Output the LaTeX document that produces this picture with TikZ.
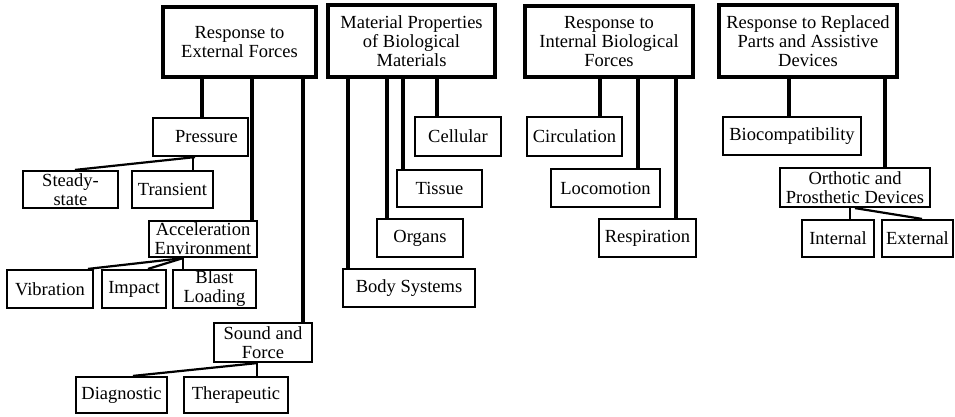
\documentclass[tikz,border=0pt]{standalone}
\usepackage{fontspec}
\setmainfont{Liberation Serif}
\begin{document}
\begin{tikzpicture}[x=1pt,y=-1pt,
  every node/.style={font=\fontsize{18.5}{19}\selectfont, align=center, inner sep=0pt},
  topbox/.style={draw, line width=3.2pt},
  box/.style={draw, line width=2.2pt},
  thickconn/.style={line width=3.2pt},
  conn/.style={line width=2.2pt}]
\useasboundingbox (0,0) rectangle (955,416);
% top level
\node[topbox, minimum width=153pt, minimum height=70pt] (ext) at (239.5,42) {Response to\\External Forces};
\node[topbox, minimum width=167pt, minimum height=72pt] (mat) at (411.5,41) {Material Properties\\of Biological\\Materials};
\node[topbox, minimum width=168pt, minimum height=71pt] (int) at (609,41.5) {Response to\\Internal Biological\\Forces};
\node[topbox, minimum width=178pt, minimum height=72pt] (rep) at (808,41) {Response to Replaced\\Parts and Assistive\\Devices};
% external forces branch
\node[box, minimum width=95pt, minimum height=38pt] (pres) at (200.5,137) {\hspace*{12pt}Pressure};
\node[box, minimum width=95pt, minimum height=37pt] (steady) at (70.5,189.5) {Steady-\\state};
\node[box, minimum width=81pt, minimum height=37pt] (trans) at (172.5,189.5) {Transient};
\node[box, minimum width=108pt, minimum height=36pt] (acc) at (203,239) {Acceleration\\Environment};
\node[box, minimum width=86pt, minimum height=38pt] (vib) at (50,289) {Vibration};
\node[box, minimum width=64pt, minimum height=38pt] (imp) at (134,289) {Impact};
\node[box, minimum width=83pt, minimum height=38pt] (blast) at (214.5,289) {Blast\\Loading};
\node[box, minimum width=98pt, minimum height=39pt] (sound) at (263,342.5) {Sound and\\Force};
\node[box, minimum width=91pt, minimum height=36pt] (diag) at (121.5,395) {Diagnostic};
\node[box, minimum width=104pt, minimum height=36pt] (ther) at (236,395) {Therapeutic};
% material branch
\node[box, minimum width=86pt, minimum height=39pt] (cell) at (458,136.5) {Cellular};
\node[box, minimum width=85pt, minimum height=37pt] (tiss) at (439.5,188.5) {Tissue};
\node[box, minimum width=86pt, minimum height=38pt] (org) at (420,238) {Organs};
\node[box, minimum width=132pt, minimum height=38pt] (body) at (409,288) {Body Systems};
% internal branch
\node[box, minimum width=95pt, minimum height=39pt] (circ) at (574.5,136.5) {Circulation};
\node[box, minimum width=109pt, minimum height=38pt] (loco) at (605.5,188) {Locomotion};
\node[box, minimum width=97pt, minimum height=38pt] (resp) at (647.5,238) {Respiration};
% replaced parts branch
\node[box, minimum width=138pt, minimum height=38pt] (bio) at (792,136) {Biocompatibility};
\node[box, minimum width=150pt, minimum height=39pt] (orth) at (855,187.5) {Orthotic and\\Prosthetic Devices};
\node[box, minimum width=72pt, minimum height=37pt] (intl) at (838,238.5) {Internal};
\node[box, minimum width=71pt, minimum height=37pt] (extl) at (917.5,238.5) {External};
% connectors
\draw[thickconn] (ext.south -| 202,0) -- (pres.north -| 202,0);
\draw[thickconn] (ext.south -| 252,0) -- (acc.north -| 252,0);
\draw[thickconn] (ext.south -| 303,0) -- (sound.north -| 303,0);
\draw[conn] (pres.south -| 195,0) -- (steady.north -| 75,0);
\draw[conn] (pres.south -| 193,0) -- (trans.north -| 193,0);
\draw[conn] (acc.south -| 183,0) -- (vib.north -| 88,0);
\draw[conn] (acc.south -| 183,0) -- (imp.north -| 148,0);
\draw[conn] (acc.south -| 183,0) -- (blast.north -| 183,0);
\draw[conn] (sound.south -| 257,0) -- (diag.north -| 133,0);
\draw[conn] (sound.south -| 257,0) -- (ther.north -| 257,0);
\draw[thickconn] (mat.south -| 437,0) -- (cell.north -| 437,0);
\draw[thickconn] (mat.south -| 403,0) -- (tiss.north -| 403,0);
\draw[thickconn] (mat.south -| 387,0) -- (org.north -| 387,0);
\draw[thickconn] (mat.south -| 348,0) -- (body.north -| 348,0);
\draw[thickconn] (int.south -| 600,0) -- (circ.north -| 600,0);
\draw[thickconn] (int.south -| 638,0) -- (loco.north -| 638,0);
\draw[thickconn] (int.south -| 676,0) -- (resp.north -| 676,0);
\draw[thickconn] (rep.south -| 789,0) -- (bio.north -| 789,0);
\draw[thickconn] (rep.south -| 885,0) -- (orth.north -| 885,0);
\draw[conn] (orth.south -| 850,0) -- (intl.north -| 850,0);
\draw[conn] (orth.south -| 855,0) -- (extl.north -| 922,0);
\end{tikzpicture}
\end{document}
